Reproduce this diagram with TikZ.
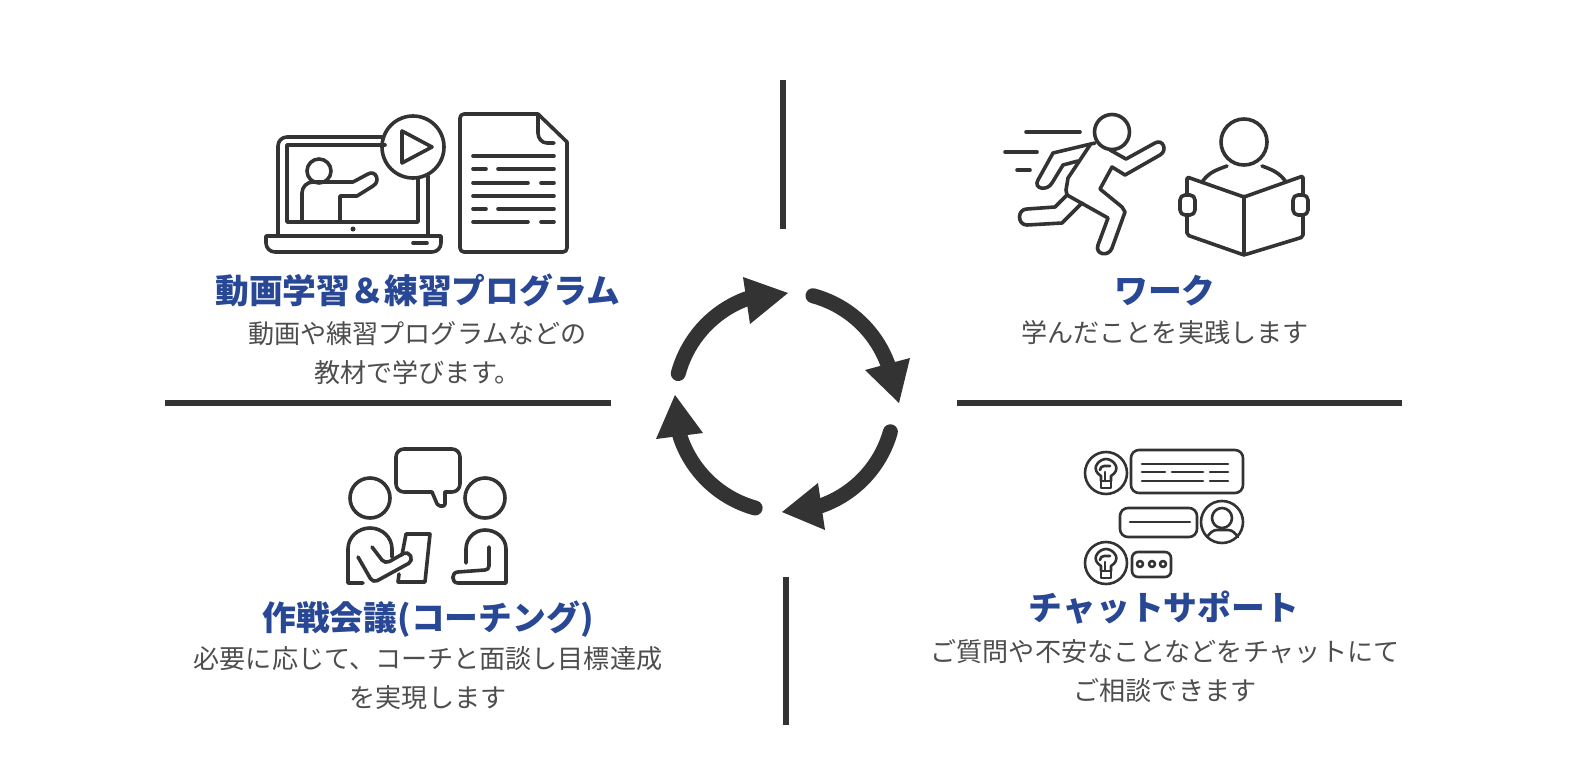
\documentclass[tikz,border=0pt]{standalone}
\usepackage{fontspec}
\setmainfont{Noto Sans CJK JP}
\usepackage{tikz}
\definecolor{ink}{HTML}{333333}
\definecolor{titleblue}{HTML}{284794}
\definecolor{bodygrey}{HTML}{4D4D4D}
\tikzset{
	titletext/.style={text=titleblue, font=\fontsize{16.9}{20}\selectfont\bfseries, inner sep=0pt},
	bodytext/.style={text=bodygrey, font=\fontsize{13.05}{19.5}\selectfont, align=center, inner sep=0pt},
	rule/.style={draw=ink, line width=2.7pt},
	icon/.style={draw=ink, line width=1.8pt, line cap=round, line join=round},
	thinicon/.style={draw=ink, line width=1.3pt, line cap=round, line join=round},
}
\begin{document}
\begin{tikzpicture}[x=0.5pt, y=-0.5pt]
	\useasboundingbox (0,0) rectangle (1584,776);
	%\draw[help lines] (0,0) grid[step=100] (1584,776);
	% dividing lines
	\draw[rule] (783,80) -- (783,229);
	\draw[rule] (786,577) -- (786,725);
	\draw[rule] (165,403) -- (611,403);
	\draw[rule] (957,403) -- (1402,403);
	% ring of arrows
	\begin{scope}[shift={(784.5,402)}]
		\foreach \from/\to in {285/340, 15.7/70.7, 105.5/162, 195/250}
			\draw[ink, line width=7.5pt, line cap=round] plot[domain=\from:\to, samples=20] (\x:110);
	\end{scope}
	\fill[ink] (865,370) -- (910,358) -- (899,403) -- cycle;
	\fill[ink] (818,483) -- (825,530) -- (782,512) -- cycle;
	\fill[ink] (703,433) -- (656,439) -- (675,395) -- cycle;
	\fill[ink] (750,324) -- (743,277) -- (788,293) -- cycle;
	% texts
	\node[titletext] (videotitle) at (417.5,290) {動画学習\char"FF06 練習プログラム};
	\node[bodytext] (videobody) at (417.5,353) {動画や練習プログラムなどの\\教材で学びます。};
	\node[titletext] (worktitle) at (1165,291) {ワーク};
	\node[bodytext] (workbody) at (1165,333) {学んだことを実践します};
	\node[titletext] (coachtitle) at (428,619) {作戦会議(コーチング)};
	\node[bodytext] (coachbody) at (428,678) {必要に応じて、コーチと面談し目標達成\\を実現します};
	\node[titletext] (chattitle) at (1164,608) {チャットサポート};
	\node[bodytext] (chatbody) at (1165,671) {ご質問や不安なことなどをチャットにて\\ご相談できます};
	% laptop
	\draw[icon] (382,137) -- (287,137) to[out=180, in=90] (278,146) -- (278,236);
	\draw[icon] (428,176) -- (428,236);
	\draw[icon] (385,145) -- (287,145) -- (287,222) -- (418,222) -- (418,178);
	\draw[icon] (266,236) -- (441,236) -- (441,243) to[out=-90, in=0] (432,252) -- (275,252) to[out=180, in=-90] (266,243) -- cycle;
	\fill[ink] (353,229) circle[radius=2.5];
	\draw[icon] (413,243) -- (427,243);
	\draw[icon] (413,147) circle[radius=31];
	\draw[icon] (402,131) -- (432,147) -- (402,163) -- cycle;
	\draw[icon] (319,171) circle[radius=12];
	\draw[icon] (302,221) -- (302,193) to[out=90, in=180] (313,182) -- (353,182) -- (368,174) to[out=30, in=30, looseness=1.8] (373,186) -- (357,196) -- (340,196) -- (340,221);
	% document
	\draw[icon, rounded corners=2pt] (538,114) -- (460,114) -- (460,252) -- (567,252) -- (567,142);
	\draw[icon] (538,114) -- (567,142);
	\draw[icon] (538,116) -- (538,133) to[out=-90, in=180] (547,143) -- (554,143);
	\foreach \y in {156,196} {
		\draw[icon] (473,\y) -- (554,\y);
	}
	\foreach \y in {169,209} {
		\draw[icon] (473,\y) -- (486,\y) (498,\y) -- (554,\y);
	}
	\foreach \y in {183,222} {
		\draw[icon] (473,\y) -- (528,\y) (541,\y) -- (554,\y);
	}
	% runner
	\draw[icon] (1112,132) circle[radius=17.5];
	\draw[icon] (1026,132) -- (1080,132);
	\draw[icon] (1005,152) -- (1037,152);
	\draw[icon] (1017,170) -- (1030,170);
	\draw[icon] (1095,143) -- (1053,153) -- (1038,180) to[out=-120, in=-120, looseness=1.8] (1052,183) -- (1063,165) -- (1078,161);
	\draw[icon] (1090,145) -- (1068,178) -- (1066,190) -- (1067,195) -- (1108,218) -- (1098,245) to[out=-110, in=-110, looseness=1.8] (1112,248) -- (1125,212) -- (1122,207) -- (1100,189) -- (1112,167) -- (1125,175) -- (1160,155) to[out=30, in=30, looseness=1.8] (1155,143) -- (1126,159) -- (1110,150);
	\draw[icon] (1067,195) -- (1055,207) -- (1027,209) to[out=180, in=180, looseness=1.6] (1027,225) -- (1062,223) -- (1082,203);
	% reader
	\draw[icon] (1244,142) circle[radius=23];
	\draw[icon] (1202,182) to[out=55, in=-160] (1227,166);
	\draw[icon] (1262,166) to[out=-20, in=125] (1286,182);
	\draw[icon, rounded corners=1pt] (1187,177) -- (1244,197) -- (1303,176) -- (1303,237) -- (1244,255) -- (1187,235) -- cycle;
	\draw[icon] (1244,197) -- (1244,255);
	\draw[icon, fill=white, rounded corners=2.5pt] (1180,195) rectangle (1195,215);
	\draw[icon, fill=white, rounded corners=2.5pt] (1293,195) rectangle (1308,215);
	% coaching
	\draw[icon, rounded corners=4pt] (432,492) -- (396,492) -- (396,449) -- (460,449) -- (460,492) -- (445,492);
	\draw[icon, rounded corners=1pt] (432,492) -- (438,506) -- (445,506) -- (445,492);
	\draw[icon] (370,498) circle[radius=20];
	\draw[icon] (485,498) circle[radius=20];
	\draw[icon] (363,583) -- (348,583) -- (348,549) to[out=90, in=180] (370,528) to[out=0, in=90] (392,549) -- (392,557);
	\draw[icon, rounded corners=2.5pt] (358,557) -- (373,583) -- (413,561) -- (408,551) -- (385,564) -- (372,547);
	\draw[icon] (402,555) -- (406,534) -- (430,534) -- (425,582) -- (398,582) -- (399,574);
	\draw[icon] (466,563) -- (466,549) to[out=90, in=180] (485,530) to[out=0, in=90] (506,549) -- (506,583) -- (458,583) to[out=180, in=180, looseness=1.6] (458,572) -- (485,570) to[out=0, in=-90] (489,566) -- (489,547);
	% chat
	\foreach \y in {473,563} {
		\begin{scope}[shift={(1106,\y)}]
			\draw[thinicon] (0,0) circle[radius=21];
			\draw[thinicon] (-5,8) -- (-5,3) .. controls (-10,0) and (-11,-4) .. (-10,-7) .. controls (-8,-12) and (-3,-14) .. (0,-14) .. controls (3,-14) and (8,-12) .. (10,-7) .. controls (11,-4) and (10,0) .. (5,3) -- (5,8);
			\draw[thinicon] (-5,8) rectangle (5,15);
			\draw[thinicon] (-1,8) -- (-1,-1);
			\draw[thinicon] (-6,-3) to[out=90, in=180] (-2,-7) -- (4,-7);
		\end{scope}
	}
	\draw[thinicon, rounded corners=4pt] (1131,450) rectangle (1243,493);
	\draw[thinicon] (1142,464) -- (1228,464);
	\draw[thinicon] (1142,472) -- (1165,472) (1172,472) -- (1203,472) (1210,472) -- (1228,472);
	\draw[thinicon] (1142,481) -- (1203,481) (1210,481) -- (1228,481);
	\draw[thinicon, rounded corners=4pt] (1120,508) rectangle (1197,537);
	\draw[thinicon] (1130,522) -- (1190,522);
	\draw[thinicon] (1222,522) circle[radius=21];
	\draw[thinicon] (1222,518) circle[radius=10];
	\draw[thinicon] (1207,537) to[out=50, in=180] (1217,530) -- (1228,530) to[out=0, in=130] (1238,537);
	\draw[thinicon, rounded corners=3pt] (1132,552) rectangle (1171,577);
	\foreach \x in {1140,1152,1163} {
		\draw[thinicon] (\x,564) circle[radius=3];
	}
\end{tikzpicture}
\end{document}
